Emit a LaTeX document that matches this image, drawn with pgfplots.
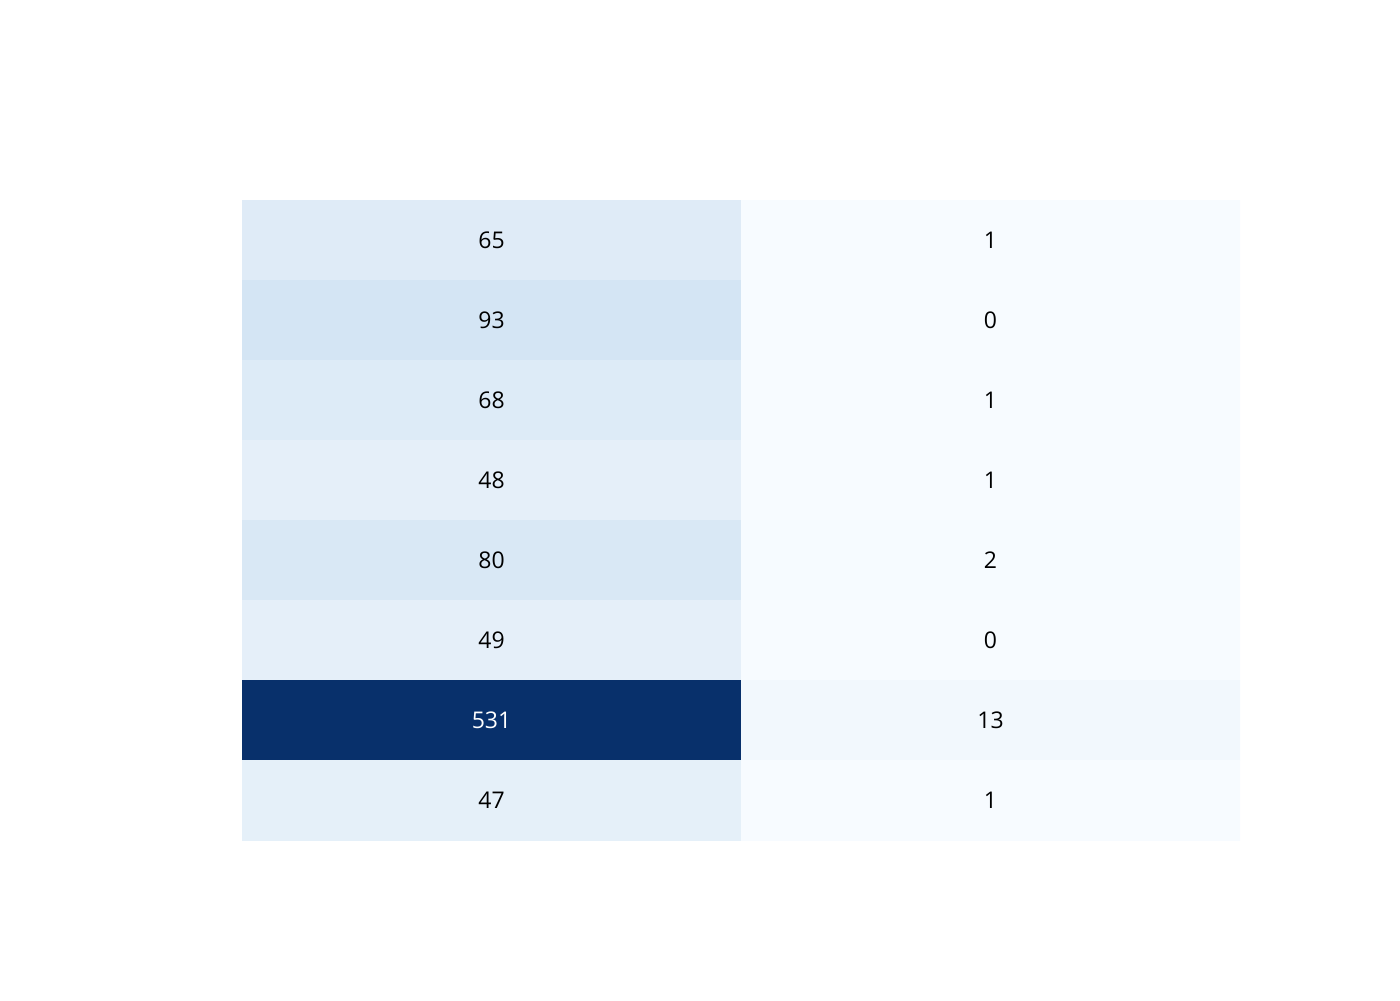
\documentclass[border=0pt]{standalone}
\usepackage{pgfplots}
\pgfplotsset{compat=1.18}
\usepackage{fontspec}
\setmainfont{Open Sans}
\begin{document}
\begin{tikzpicture}
\path (-121pt,-80pt) rectangle (579pt,420pt);
\begin{axis}[at={(0,0)},anchor=south west,scale only axis,width=499pt,height=320pt,
  axis line style={draw=none},ticks=none,
  xmin=-0.5,xmax=1.5,ymin=-0.5,ymax=7.5,y dir=reverse,
  colormap={blues}{rgb255=(247,251,255) rgb255=(222,235,247) rgb255=(198,219,239) rgb255=(158,202,225) rgb255=(107,174,214) rgb255=(66,146,198) rgb255=(33,113,181) rgb255=(8,81,156) rgb255=(8,48,107)},
  point meta min=0,point meta max=531]
\addplot[matrix plot*,mesh/cols=2,point meta=explicit,draw=none] table[meta=v] {
x y v
0 0 65
1 0 1
0 1 93
1 1 0
0 2 68
1 2 1
0 3 48
1 3 1
0 4 80
1 4 2
0 5 49
1 5 0
0 6 531
1 6 13
0 7 47
1 7 1
};
\addplot[only marks,mark=none,nodes near coords,point meta=explicit symbolic,
  nodes near coords style={anchor=center,font=\fontsize{11.5}{14}\selectfont}] table[meta=t] {
x y t
0 0 65
1 0 1
0 1 93
1 1 0
0 2 68
1 2 1
0 3 48
1 3 1
0 4 80
1 4 2
0 5 49
1 5 0
1 6 13
0 7 47
1 7 1
};
\node[white,font=\fontsize{11.5}{14}\selectfont] at (axis cs:0,6) {531};
\end{axis}
\end{tikzpicture}
\end{document}
